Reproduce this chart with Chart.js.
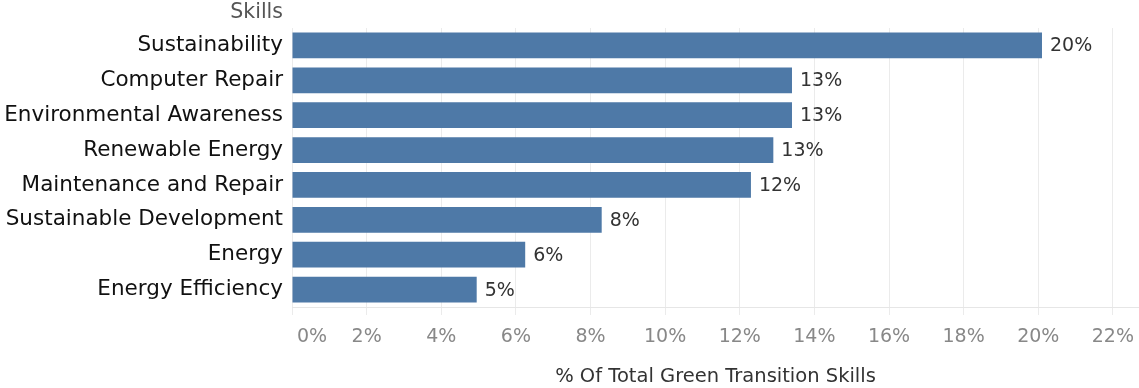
<!DOCTYPE html>
<html>
<head>
<meta charset="utf-8">
<script src="https://cdn.jsdelivr.net/npm/chart.js@4"></script>
<style>
  html, body { margin: 0; padding: 0; background: #fff; }
  #wrap { width: 1139px; height: 388px; position: relative; }
</style>
</head>
<body>
<div id="wrap"><canvas id="skillsChart"></canvas></div>
<script>
// Chart data
const skills = [
  "Sustainability",
  "Computer Repair",
  "Environmental Awareness",
  "Renewable Energy",
  "Maintenance and Repair",
  "Sustainable Development",
  "Energy",
  "Energy Efficiency",
];
const shares = [20.1, 13.4, 13.4, 12.9, 12.3, 8.3, 6.25, 4.95];
const xTicks = [0, 2, 4, 6, 8, 10, 12, 14, 16, 18, 20, 22];

const FONT = "'DejaVu Sans', sans-serif";
const BAR_COLOR = "#4e79a7";

// Draws the value labels, the "Skills" header, the first tick label and the x axis title
const extraText = {
  id: "extraText",
  afterDatasetsDraw(chart) {
    const ctx = chart.ctx;
    const meta = chart.getDatasetMeta(0);
    const area = chart.chartArea;
    ctx.save();
    ctx.font = "19px " + FONT;
    ctx.fillStyle = "#333";
    ctx.textBaseline = "middle";
    ctx.textAlign = "left";
    meta.data.forEach((bar, i) => {
      ctx.fillText(Math.round(shares[i]) + "%", bar.x + 8, bar.y + 1);
    });

    // first tick label sits inside the axis, like the original
    ctx.fillStyle = "#888";
    ctx.fillText(xTicks[0] + "%", area.left + 5, 337);

    ctx.fillStyle = "#555";
    ctx.font = "20.5px " + FONT;
    ctx.textAlign = "right";
    ctx.fillText("Skills", area.left - 9, 13);

    ctx.fillStyle = "#333";
    ctx.font = "19.5px " + FONT;
    ctx.textAlign = "center";
    ctx.fillText("% Of Total Green Transition Skills", (area.left + area.right) / 2, 377);
    ctx.restore();
  },
};

new Chart(document.getElementById("skillsChart"), {
  type: "bar",
  data: {
    labels: skills,
    datasets: [
      {
        data: shares,
        backgroundColor: BAR_COLOR,
        borderWidth: 0,
        barPercentage: 0.74,
        categoryPercentage: 1,
      },
    ],
  },
  options: {
    indexAxis: "y",
    responsive: true,
    maintainAspectRatio: false,
    animation: false,
    layout: { padding: { top: 28, right: 0, bottom: 0, left: 0 } },
    plugins: {
      legend: { display: false },
      tooltip: { enabled: false },
    },
    scales: {
      x: {
        min: 0,
        max: 22.7,
        afterFit(scale) {
          scale.height = 81;
          scale.paddingRight = 0;
          scale.paddingLeft = 0;
        },
        afterBuildTicks(scale) {
          scale.ticks = xTicks.map((v) => ({ value: v }));
        },
        border: { display: true, color: "#e6e6e6" },
        grid: {
          color: "#ebebeb",
          tickColor: "#ebebeb",
          tickLength: 8,
        },
        ticks: {
          padding: 11,
          maxRotation: 0,
          color: "#888",
          font: { family: FONT, size: 19 },
          callback: (v) => (v === xTicks[0] ? "" : v + "%"),
        },
      },
      y: {
        afterFit(scale) {
          scale.width = 292;
        },
        border: { display: false },
        grid: { display: false, drawTicks: false },
        ticks: {
          padding: 9,
          color: "#111",
          font: { family: FONT, size: 21.5 },
        },
      },
    },
  },
  plugins: [extraText],
});
</script>
</body>
</html>
